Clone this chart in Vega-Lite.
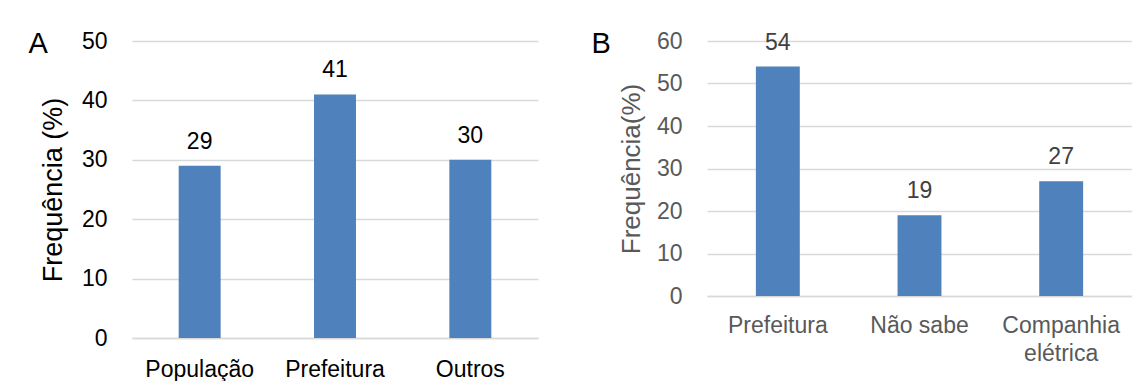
{
  "$schema": "https://vega.github.io/schema/vega-lite/v6.json",
  "background": "white",
  "padding": {"left": 28, "top": 30, "right": 0, "bottom": 0},
  "spacing": 53,
  "config": {
    "view": {"stroke": null},
    "font": "Liberation Sans",
    "title": {"fontSize": 29, "fontWeight": "normal", "color": "#000000", "anchor": "start", "frame": "bounds", "offset": 0},
    "axis": {"labelFont": "Liberation Sans", "titleFont": "Liberation Sans", "titleFontWeight": "normal", "labelFontSize": 23, "ticks": false, "tickSize": 0, "labelOverlap": false},
    "axisX": {"domainColor": "#d9d9d9", "domainWidth": 1.5, "grid": false, "labelAngle": 0, "labelPadding": 20, "title": null, "labelLineHeight": 28},
    "axisY": {"domain": false, "gridColor": "#d9d9d9", "gridWidth": 1.5, "labelPadding": 25}
  },
  "hconcat": [
    {
      "title": {"text": "A", "dx": -11, "dy": 33},
      "width": 406,
      "height": 297,
      "data": {"values": [
        {"fonte": "População", "freq": 29},
        {"fonte": "Prefeitura", "freq": 41},
        {"fonte": "Outros", "freq": 30}
      ]},
      "encoding": {
        "x": {"field": "fonte", "type": "nominal", "sort": null,
              "scale": {"paddingInner": 0, "paddingOuter": 0},
              "axis": {"labelColor": "#000000"}},
        "y": {"field": "freq", "type": "quantitative",
              "scale": {"domain": [0, 50]},
              "axis": {"title": "Frequência (%)", "titleFontSize": 27, "titleColor": "#000000", "labelColor": "#000000", "titlePadding": 14, "values": [0, 10, 20, 30, 40, 50]}}
      },
      "layer": [
        {"mark": {"type": "bar", "width": {"band": 0.31}, "color": "#4f81bd"}},
        {"mark": {"type": "text", "baseline": "alphabetic", "dy": -17, "fontSize": 23, "color": "#000000"},
         "encoding": {"text": {"field": "freq", "type": "quantitative"}}}
      ]
    },
    {
      "title": {"text": "B", "dx": -27, "dy": 33},
      "width": 425,
      "height": 255,
      "data": {"values": [
        {"fonte": "Prefeitura", "freq": 54},
        {"fonte": "Não sabe", "freq": 19},
        {"fonte": "Companhia elétrica", "freq": 27}
      ]},
      "encoding": {
        "x": {"field": "fonte", "type": "nominal", "sort": null,
              "scale": {"paddingInner": 0, "paddingOuter": 0},
              "axis": {"labelColor": "#595959", "labelPadding": 18,
                       "labelExpr": "datum.label == 'Companhia elétrica' ? ['Companhia', 'elétrica'] : datum.label"}},
        "y": {"field": "freq", "type": "quantitative",
              "scale": {"domain": [0, 60]},
              "axis": {"title": "Frequência(%)", "titleFontSize": 26, "titleColor": "#595959", "labelColor": "#595959", "titlePadding": 12, "values": [0, 10, 20, 30, 40, 50, 60]}}
      },
      "layer": [
        {"mark": {"type": "bar", "width": {"band": 0.31}, "color": "#4f81bd"}},
        {"mark": {"type": "text", "baseline": "alphabetic", "dy": -17, "fontSize": 23, "color": "#404040"},
         "encoding": {"text": {"field": "freq", "type": "quantitative"}}}
      ]
    }
  ]
}
